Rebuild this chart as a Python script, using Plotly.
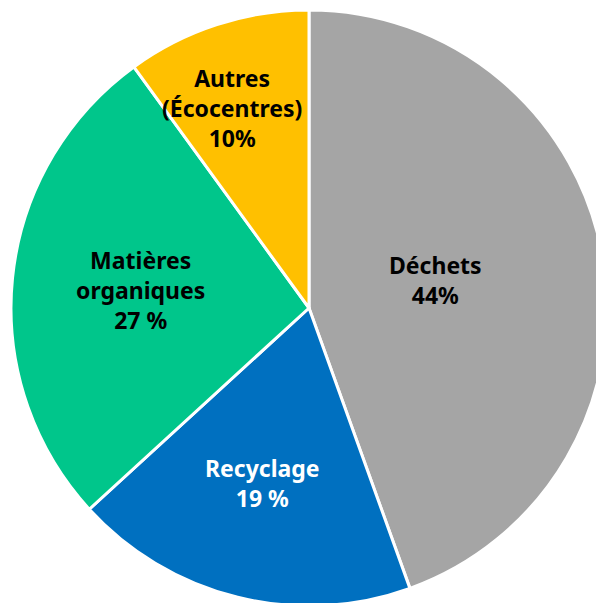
import plotly.graph_objects as go

# Data (shares; labels as printed on the chart)
categories = ["Déchets", "Recyclage", "Matières organiques", "Autres (Écocentres)"]
values = [44.5, 18.7, 26.8, 10.0]
label_text = ["Déchets<br>44%", "Recyclage<br>19 %", "Matières<br>organiques<br>27 %", "Autres<br>(Écocentres)<br>10%"]
colors = ["#A5A5A5", "#0070C0", "#00C68B", "#FFC000"]
text_colors = ["black", "white", "black", "black"]

# pie is bigger than the window on the right / bottom, like the original crop
ML, MT = 10, 10
W, H = ML + 598, MT + 596

fig = go.Figure(
    go.Pie(
        labels=categories,
        values=values,
        sort=False,
        direction="clockwise",
        rotation=0,
        marker=dict(colors=colors, line=dict(color="white", width=3)),
        textinfo="none",
        hoverinfo="label+percent",
        domain=dict(x=[0, 1], y=[0, 1]),
    )
)

# label anchor points (page pixels -> paper coords)
label_px = [(435, 280), (262, 483), (140, 290), (232, 108)]
for (px, py), t, c in zip(label_px, label_text, text_colors):
    fig.add_annotation(
        x=(px - ML) / (W - ML),
        y=1 - (py - MT) / (H - MT),
        xref="paper",
        yref="paper",
        xanchor="center",
        yanchor="middle",
        text="<b>" + t + "</b>",
        showarrow=False,
        font=dict(family="Noto Sans", size=23, color=c),
        align="center",
    )

fig.update_layout(
    width=W,
    height=H,
    margin=dict(l=ML, r=0, t=MT, b=0, pad=0),
    showlegend=False,
    paper_bgcolor="white",
    plot_bgcolor="white",
)

fig.write_html(
    "out.html",
    config={"displayModeBar": False},
    post_script=(
        "document.body.style.margin='0';"
        "document.body.style.overflow='hidden';"
        "document.documentElement.style.overflow='hidden';"
    ),
)
